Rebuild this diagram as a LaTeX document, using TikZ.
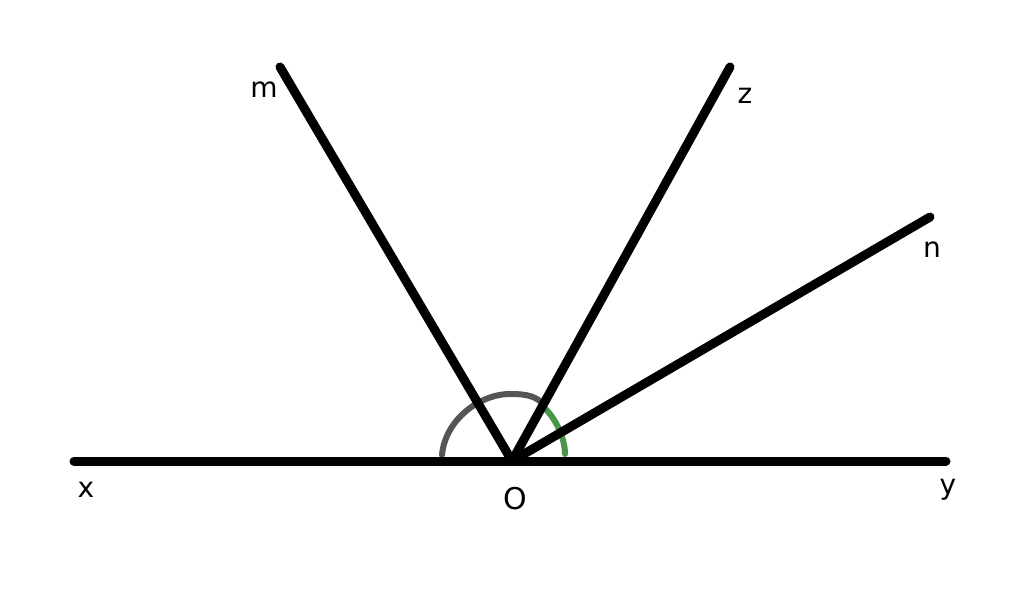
\documentclass[tikz,border=0pt]{standalone}
\usepackage{fontspec}
\setmainfont{DejaVu Sans}
\definecolor{arcgray}{RGB}{85,85,85}
\definecolor{arcgreen}{RGB}{72,150,72}
\begin{document}
\begin{tikzpicture}[x=1pt,y=-1pt,
  ray/.style={line width=9pt,line cap=round},
  lbl/.style={font=\fontsize{28}{33}\selectfont,inner sep=0pt},
  arcg/.style={line width=6pt,line cap=round,color=arcgray},
  arcn/.style={line width=6pt,line cap=round,color=arcgreen}]
\useasboundingbox (0,0) rectangle (1024,605);
\fill[white] (0,0) rectangle (1024,605);
\coordinate (O) at (512,461);
\coordinate (X) at (74,461);
\coordinate (Y) at (946,461);
\coordinate (M) at (280,67);
\coordinate (Z) at (730,67);
\coordinate (N) at (930,217);
\draw[arcg] (442,455) .. controls (445,420) and (480,393) .. (512,394) .. controls (528,394) and (536,397) .. (542,403);
\draw[arcn] (542,406) .. controls (555,416) and (565,438) .. (565,454);
\draw[ray] (X) -- (Y);
\draw[ray] (O) -- (M);
\draw[ray] (O) -- (Z);
\draw[ray] (O) -- (N);
\node[lbl] (lx) at (86,490) {x};
\node[lbl] (ly) at (948,490) {y};
\node[lbl,font=\fontsize{30}{35}\selectfont] (lo) at (515,499) {O};
\node[lbl] (lm) at (264,90) {m};
\node[lbl] (lz) at (745,96) {z};
\node[lbl] (ln) at (932,250) {n};
\end{tikzpicture}
\end{document}
